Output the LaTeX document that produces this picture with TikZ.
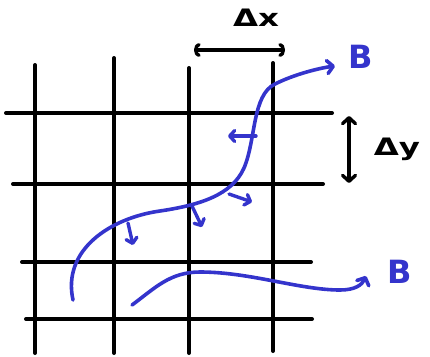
\documentclass[tikz,border=0pt]{standalone}
\usepackage{fontspec}
\setsansfont{DejaVu Sans}
\usetikzlibrary{arrows.meta}
\definecolor{pen}{RGB}{52,52,204}
\tikzset{
  gridline/.style={line width=4pt, black, line cap=round},
  flux/.style={line width=3.6pt, pen, line cap=round, line join=round},
  tip/.style={-{Straight Barb[round,length=6pt,width=13pt]}},
  normalvec/.style={flux, line width=3.4pt, -{Straight Barb[round,length=5pt,width=11pt]}},
  measure/.style={line width=3.4pt, black, line cap=round},
  lbl/.style={font=\sffamily\bfseries\fontsize{24}{26}\selectfont, inner sep=0pt, xscale=1.35},
  blbl/.style={font=\sffamily\bfseries\fontsize{32}{34}\selectfont, text=pen, inner sep=0pt},
}
\begin{document}
\begin{tikzpicture}[x=1pt,y=-1pt]
\useasboundingbox (0,0) rectangle (430,356);
% vertical grid lines
\draw[gridline] (35,65) -- (35,353);
\draw[gridline] (114,58) -- (114,353);
\draw[gridline] (189,68) -- (189,353);
\draw[gridline] (273,63) -- (273,351);
% horizontal grid lines
\draw[gridline] (6,113) -- (332,113);
\draw[gridline] (13,184) -- (323,184);
\draw[gridline] (22,262) -- (311,262);
\draw[gridline] (26,319) -- (312,319);
% delta x
\coordinate (dxa) at (194,50);
\coordinate (dxb) at (285,50);
\draw[measure, {Arc Barb[round,length=5pt,width=14pt]}-{Arc Barb[round,length=5pt,width=14pt]}] (dxa) -- (dxb);
\node[lbl] (dx) at (256,18) {Δx};
% delta y
\coordinate (dya) at (349,116);
\coordinate (dyb) at (349,183);
\draw[measure, {Straight Barb[round,length=6pt,width=13pt]}-{Straight Barb[round,length=6pt,width=13pt]}] (dya) -- (dyb);
\node[lbl] (dy) at (397,149) {Δy};
% upper field line
\coordinate (u0) at (73,300);
\coordinate (u1) at (335,66);
\draw[flux, tip] (u0) .. controls (62,250) and (110,218) .. (160,211)
  .. controls (200,205) and (232,195) .. (244,168)
  .. controls (256,140) and (252,95) .. (275,84)
  .. controls (295,74) and (320,68) .. (u1);
\node[blbl] (B1) at (361,57) {B};
% lower field line
\coordinate (l0) at (132,305);
\coordinate (l1) at (366,276);
\draw[flux, tip] (l0) .. controls (155,288) and (170,272) .. (200,272)
  .. controls (250,272) and (300,290) .. (340,290)
  .. controls (355,290) and (362,285) .. (l1);
\node[blbl] (B2) at (400,272) {B};
% normal vectors
\coordinate (n1a) at (256,136); \coordinate (n1b) at (228,136);
\coordinate (n2a) at (229,194); \coordinate (n2b) at (252,202);
\coordinate (n3a) at (192,206); \coordinate (n3b) at (202,227);
\coordinate (n4a) at (128,223); \coordinate (n4b) at (133,245);
\draw[normalvec] (n1a) -- (n1b);
\draw[normalvec] (n2a) -- (n2b);
\draw[normalvec] (n3a) -- (n3b);
\draw[normalvec] (n4a) -- (n4b);
\end{tikzpicture}
\end{document}
